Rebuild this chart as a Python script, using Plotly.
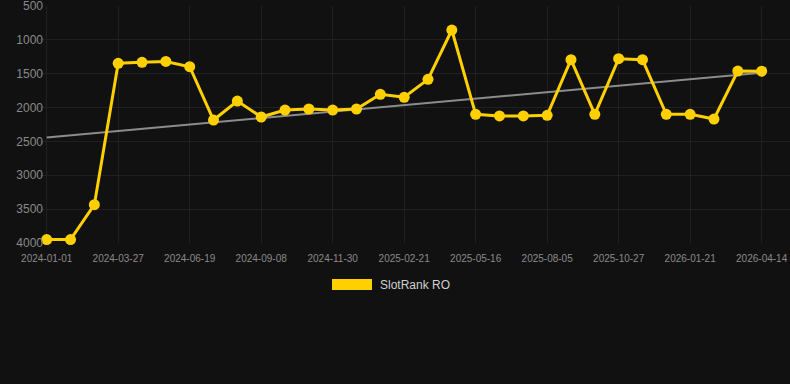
import numpy as np
import plotly.graph_objects as go

dates = [
    "2024-01-01", "2024-01-29", "2024-02-27", "2024-03-27", "2024-04-24", "2024-05-22",
    "2024-06-19", "2024-07-16", "2024-08-12", "2024-09-08", "2024-10-05", "2024-11-02",
    "2024-11-30", "2024-12-27", "2025-01-24", "2025-02-21", "2025-03-20", "2025-04-18",
    "2025-05-16", "2025-06-11", "2025-07-09", "2025-08-05", "2025-09-01", "2025-09-29",
    "2025-10-27", "2025-11-24", "2025-12-23", "2026-01-21", "2026-02-17", "2026-03-17",
    "2026-04-14",
]
rank = [
    3950, 3950, 3435, 1346, 1332, 1318, 1396, 2184, 1903, 2139, 2036, 2021,
    2036, 2021, 1804, 1848, 1583, 854, 2100, 2124, 2124, 2114, 1292, 2100,
    1278, 1292, 2100, 2100, 2169, 1460, 1462,
]
series_name = "SlotRank RO"
y_ticks = [500, 1000, 1500, 2000, 2500, 3000, 3500, 4000]

idx = np.arange(len(rank))
slope, intercept = np.polyfit(idx, rank, 1)
trend = slope * idx + intercept

fig = go.Figure()
fig.add_trace(go.Scatter(
    x=dates, y=trend, mode="lines",
    line=dict(color="#8c8c8c", width=2), showlegend=False, hoverinfo="skip",
))
fig.add_trace(go.Scatter(
    x=dates, y=rank, mode="lines+markers", name=series_name,
    line=dict(color="#FFD000", width=3),
    marker=dict(color="#FFD000", size=11),
    showlegend=False, cliponaxis=False,
))

# legend swatch + label
fig.add_shape(type="rect", xref="paper", yref="paper",
              x0=(332 - 40) / 750, x1=(372 - 40) / 750,
              y0=(243 - 290) / 237, y1=(243 - 279) / 237,
              fillcolor="#FFD000", line=dict(width=0))
fig.add_annotation(xref="paper", yref="paper",
                   x=(378 - 40) / 750, y=(243 - 284.5) / 237,
                   text=series_name, showarrow=False, xanchor="left", yanchor="middle",
                   font=dict(family="Liberation Sans, Arial", size=12, color="#d0d0d0"))

fig.update_layout(
    width=790, height=384,
    margin=dict(l=40, r=0, t=6, b=141),
    paper_bgcolor="#111111", plot_bgcolor="#111111",
    font=dict(family="Liberation Sans, Arial", color="#8a8a8a"),
    xaxis=dict(
        type="category", categoryorder="array", categoryarray=dates,
        range=[-0.281, 31.19],
        tickvals=dates[::3], ticktext=dates[::3],
        tickfont=dict(size=10, color="#8a8a8a"),
        showgrid=True, gridcolor="#202020", gridwidth=1,
        zeroline=False, showline=False, ticks="",
        tickangle=0, ticklabelstandoff=8, ticklabeloverflow="allow",
    ),
    yaxis=dict(
        range=[4001, 499],
        tickvals=y_ticks,
        tickfont=dict(size=12, color="#8a8a8a"),
        showgrid=True, gridcolor="#202020", gridwidth=1,
        zeroline=False, showline=False, ticks="",
        ticklabelstandoff=-4, ticklabeloverflow="allow",
    ),
    showlegend=False,
)

fig.write_html(
    "out.html",
    config={"displayModeBar": False},
    post_script="document.body.style.margin='0';document.body.style.background='#111111';",
)
